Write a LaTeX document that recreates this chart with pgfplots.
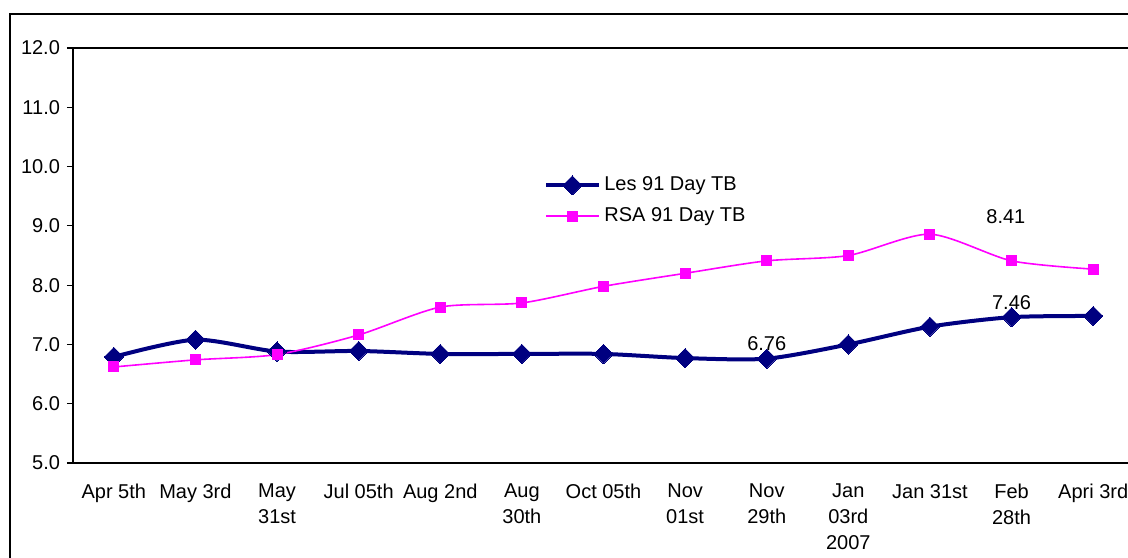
\documentclass[border=0pt]{standalone}
\usepackage{pgfplots}
\pgfplotsset{compat=1.18}
\usepackage{fontspec}
\setmainfont{Liberation Sans}
\definecolor{lesnavy}{RGB}{0,0,128}
\definecolor{rsamag}{RGB}{255,0,255}
\begin{document}
\begin{tikzpicture}
\useasboundingbox (0,0) rectangle (564pt,-278.5pt);
\draw[line width=0.9pt] (5pt,-300pt) -- (5pt,-7pt) -- (600pt,-7pt);
\begin{axis}[
  at={(36.5pt,-231.5pt)}, anchor=south west,
  scale only axis, width=530.5pt, height=207.5pt,
  xmin=-0.5, xmax=12.5, ymin=5, ymax=12,
  axis line style={line width=0.8pt},
  font=\fontsize{10}{13}\selectfont,
  ytick={5,6,...,12},
  yticklabel style={/pgf/number format/.cd, fixed, fixed zerofill, precision=1, /tikz/.cd},
  /pgf/number format/assume math mode=true,
  xtick={0,...,12},
  xticklabels={Apr 5th, May 3rd, May\\31st, Jul 05th, Aug 2nd, Aug\\30th, Oct 05th, Nov\\01st, Nov\\29th, Jan\\03rd\\2007, Jan 31st, Feb\\28th, Apri 3rd},
  xticklabel style={align=center, yshift=-4pt},
  x tick style={draw=none},
  extra x ticks={-0.5,0.5,...,11.5},
  extra x tick labels={},
  extra x tick style={major tick length=3pt, tick style={draw=black, line width=0.6pt}},
  y tick style={draw=black, line width=0.6pt},
  tick align=outside, major tick length=3pt,
  axis x line*=bottom, axis y line*=left,
  clip=false,
  legend style={draw=none, fill=none, at={(0.442,0.705)}, anchor=north west, font=\fontsize{10}{12}\selectfont, row sep=3pt, inner sep=1pt},
  legend cell align=left,
  legend image code/.code={\draw[#1, mark repeat=2, mark phase=2] plot coordinates {(0pt,0pt) (13pt,0pt) (26pt,0pt)};},
]
\draw[line width=0.8pt] (rel axis cs:0,1) -- (rel axis cs:1,1);
\addplot[lesnavy, line width=2pt, smooth, tension=0.45, mark=square*, mark size=3.4pt, mark options={rotate=45, solid, fill=lesnavy, line width=0pt}]
  coordinates {(0,6.79) (1,7.08) (2,6.88) (3,6.89) (4,6.84) (5,6.84) (6,6.84) (7,6.77) (8,6.76) (9,7.00) (10,7.30) (11,7.46) (12,7.48)};
\addlegendentry{Les 91 Day TB}
\addplot[rsamag, line width=0.8pt, smooth, tension=0.45, mark=square*, mark size=2.5pt, mark options={solid, fill=rsamag, line width=0pt}]
  coordinates {(0,6.62) (1,6.74) (2,6.83) (3,7.16) (4,7.63) (5,7.70) (6,7.98) (7,8.20) (8,8.41) (9,8.50) (10,8.86) (11,8.41) (12,8.27)};
\addlegendentry{RSA 91 Day TB}
\node at (axis cs:8,7.02) {6.76};
\node at (axis cs:11,7.70) {7.46};
\node at (axis cs:10.93,9.15) {8.41};
\end{axis}
\end{tikzpicture}
\end{document}
